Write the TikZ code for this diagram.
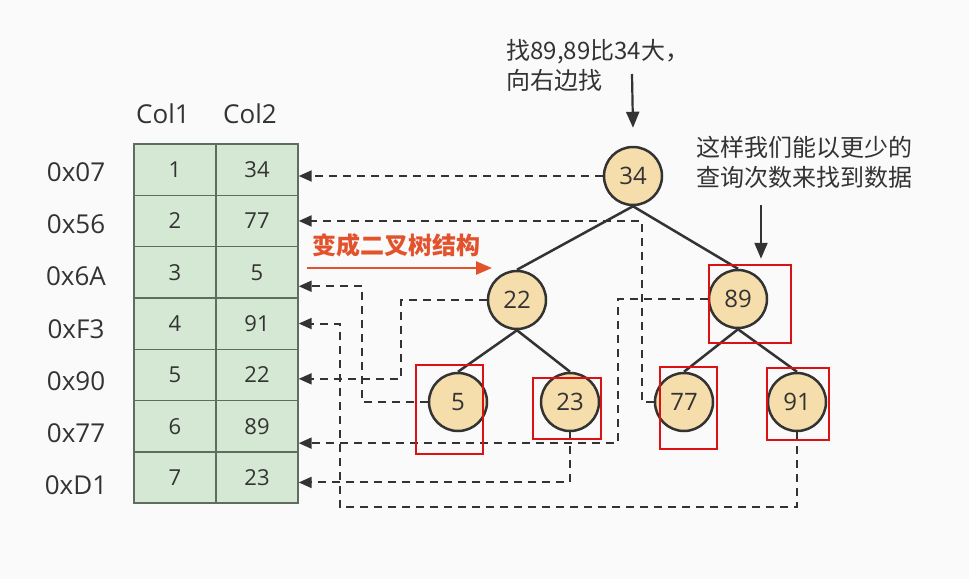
\documentclass[tikz,border=0pt]{standalone}
\usepackage{fontspec}
\setmainfont{Open Sans}
\newfontfamily\cjk{Noto Sans CJK SC}
\usetikzlibrary{arrows.meta}

\definecolor{cellgreen}{HTML}{D5E8D4}
\definecolor{cellline}{HTML}{5E6E5E}
\definecolor{wheatfill}{HTML}{F6DDAC}
\definecolor{ink}{HTML}{333333}
\definecolor{markred}{HTML}{DD1111}
\definecolor{turnorange}{HTML}{E2532D}
\definecolor{paper}{HTML}{FAFAFA}

\begin{document}
\begin{tikzpicture}[x=1pt,y=-1pt,
		cell/.style={draw=cellline,line width=1.4pt,fill=cellgreen,minimum width=82pt,minimum height=51.3pt,inner sep=0pt,font=\fontsize{22}{26}\selectfont,text=ink},
		addr/.style={font=\fontsize{26}{30}\selectfont,text=ink},
		head/.style={font=\fontsize{26}{30}\selectfont,text=ink},
		key/.style={draw=ink,circle,line width=2.5pt,fill=wheatfill,minimum size=58pt,inner sep=0pt,font=\fontsize{24}{28}\selectfont,text=ink},
		link/.style={draw=ink,line width=2pt,dash pattern=on 8pt off 6pt,-{Triangle[length=13pt,width=11pt]}},
		branch/.style={draw=ink,line width=2.5pt},
		hit/.style={draw=markred,line width=1.6pt},
		note/.style={font=\cjk\fontsize{24}{30}\selectfont,text=ink,align=left},
		pointer/.style={draw=ink,line width=2.2pt,-{Triangle[length=16pt,width=13pt]}},
		turn/.style={draw=turnorange,line width=2.5pt,-{Triangle[length=16pt,width=13pt]}}
	]
		\path[fill=paper,use as bounding box] (0,0) rectangle (969,579);
		
		% Table
		\node[head] (h1) at (163,114) {Col1};
		\node[head] (h2) at (250,114) {Col2};
		\foreach \i/\v/\a in {1/34/0x07, 2/77/0x56, 3/5/0x6A, 4/91/0xF3, 5/22/0x90, 6/89/0x77, 7/23/0xD1} {
			\node[cell] (k\i) at (175,118.35+51.3*\i) {\i};
			\node[cell] (c\i) at (257,118.35+51.3*\i) {\v};
			\node[addr] (a\i) at (76,120+52.2*\i) {\a};
		}
		
		% Tree nodes
		\node[key] (n34) at (633,176) {34};
		\node[key] (n22) at (517,300) {22};
		\node[key] (n89) at (738,299) {89};
		\node[key] (n5) at (458,402) {5};
		\node[key] (n23) at (570,402) {23};
		\node[key] (n77) at (684,402) {77};
		\node[key] (n91) at (797,402) {91};
		
		% Edges
		\draw[branch] (n34.south) -- (n22.north);
		\draw[branch] (n34.south) -- (n89.north);
		\draw[branch] (n22.south) -- (n5.north);
		\draw[branch] (n22.south) -- (n23.north);
		\draw[branch] (n89.south) -- (n77.north);
		\draw[branch] (n89.south) -- (n91.north);
		
		% Links back to the rows
		\draw[link] (n34.west) -- (n34 -| c1.east);
		\draw[link] (n77.west) -- ++(-12,0) |- (c2.east);
		\draw[link] (n5.west) -- ++(-66,0) |- ([yshift=-14pt]c3.east);
		\draw[link] (n91.south) -- ++(0,75) -| ([xshift=41pt]c4.east) -- (c4.east);
		\draw[link] (n22.west) -- ++(-86,0) |- ([yshift=-4pt]c5.east);
		\draw[link] (n89.west) -- ++(-90,0) |- ([yshift=-17pt]c6.east);
		\draw[link] (n23.south) |- ([yshift=-5pt]c7.east);
		
		% Red marks
		\draw[hit] (416,365) rectangle (483,454);
		\draw[hit] (533,378) rectangle (601,439);
		\draw[hit] (709,265) rectangle (791,343);
		\draw[hit] (660,367) rectangle (717,449);
		\draw[hit] (767,368) rectangle (829,440);
		
		% Notes
		\node[font=\cjk\bfseries\fontsize{24}{28}\selectfont,text=turnorange] (turnlbl) at (396,245) {变成二叉树结构};
		\coordinate (turnA) at (307,268);
		\coordinate (turnB) at (492,268);
		\draw[turn] (turnA) -- (turnB);
		
		\node[note,anchor=west] (hint1) at (503,65) {找89,89比34大，\\向右边找};
		\coordinate (hint1end) at (632,74);
		\draw[pointer] (hint1end) -- ([yshift=18pt]n34.north);
		
		\node[note,anchor=west] (hint2) at (693,162) {这样我们能以更少的\\查询次数来找到数据};
		\coordinate (hint2end) at (761,205);
		\draw[pointer] (hint2end) -- ([xshift=23pt,yshift=10pt]n89.north);
		
	\end{tikzpicture}
\end{document}
